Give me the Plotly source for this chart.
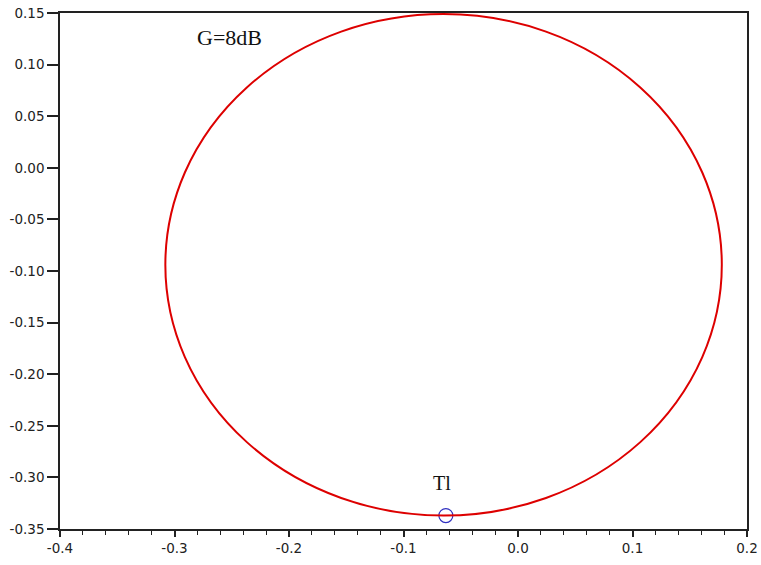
import plotly.graph_objects as go

# constant gain circle (centre and radius)
circle_center_x = -0.065
circle_center_y = -0.094
circle_radius = 0.243

# point T1 on the circle
point_x = [-0.063]
point_y = [-0.337]
point_label = "Tl"
point_label_xy = (-0.066, -0.305)

gain_label = "G=8dB"
gain_label_xy = (-0.252, 0.126)

x_ticks = [-0.4, -0.3, -0.2, -0.1, 0.0, 0.1, 0.2]
y_ticks = [0.15, 0.10, 0.05, 0.00, -0.05, -0.10, -0.15, -0.20, -0.25, -0.30, -0.35]

fig = go.Figure()

fig.add_shape(
    type="circle", xref="x", yref="y",
    x0=circle_center_x - circle_radius, x1=circle_center_x + circle_radius,
    y0=circle_center_y - circle_radius, y1=circle_center_y + circle_radius,
    line=dict(color="#dd0000", width=2),
)

fig.add_trace(go.Scatter(
    x=point_x, y=point_y, mode="markers",
    marker=dict(symbol="circle-open", size=14, color="#3030c0", line=dict(width=1.2)),
    showlegend=False, hoverinfo="skip", cliponaxis=False,
))

fig.add_annotation(x=point_label_xy[0], y=point_label_xy[1], text=point_label, showarrow=False,
                   font=dict(family="Liberation Serif", size=20, color="#111111"))
fig.add_annotation(x=gain_label_xy[0], y=gain_label_xy[1], text=gain_label, showarrow=False,
                   font=dict(family="Liberation Serif", size=22, color="#111111"))

tick_font = dict(family="DejaVu Sans", size=13.5, color="#222")

fig.update_xaxes(
    range=[-0.4, 0.2], tickvals=x_ticks, ticktext=[f"{v:.1f}" for v in x_ticks],
    ticks="outside", ticklen=6, tickwidth=1.5, tickcolor="#222",
    minor=dict(dtick=0.02, ticks="outside", ticklen=4, tickwidth=1.2, tickcolor="#222"),
    showline=True, linecolor="#222", linewidth=1.5, mirror=True,
    showgrid=False, zeroline=False, automargin=False,
    tickfont=tick_font,
)
fig.update_yaxes(
    range=[-0.35, 0.15], tickvals=y_ticks, ticktext=[f"{v:.2f}" for v in y_ticks],
    ticks="outside", ticklen=11, tickwidth=1.5, tickcolor="#222",
    showline=True, linecolor="#222", linewidth=1.5, mirror=True,
    showgrid=False, zeroline=False, automargin=False,
    tickfont=tick_font,
)

fig.update_layout(
    width=761, height=565,
    margin=dict(l=60, r=14, t=13, b=36),
    plot_bgcolor="white", paper_bgcolor="white",
    showlegend=False,
)

# drop the browser's default body margin so the figure sits at the page corner
fig.write_html("out.html", config={"displayModeBar": False},
               post_script="document.body.style.margin='0px';")
